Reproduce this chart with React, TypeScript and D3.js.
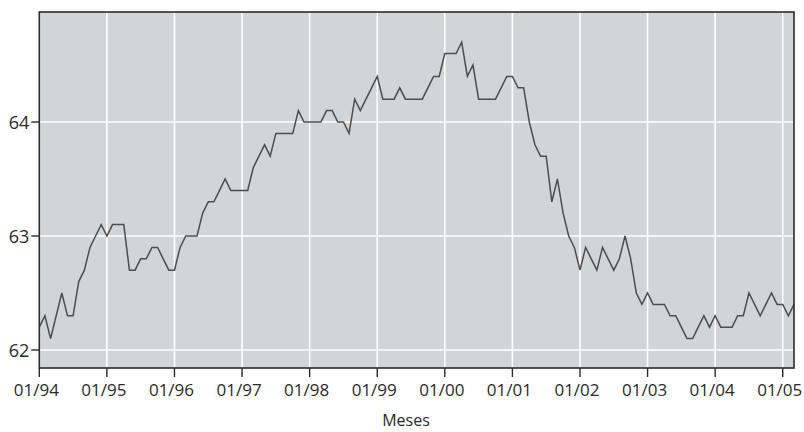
import React from "react";
import * as d3 from "d3";

// Monthly values, Jan 1994 (index 0) to Mar 2005 (index 134)
const values: number[] = [
  62.2, 62.3, 62.1, 62.3, 62.5, 62.3, 62.3, 62.6, 62.7, 62.9, 63.0, 63.1, // 1994
  63.0, 63.1, 63.1, 63.1, 62.7, 62.7, 62.8, 62.8, 62.9, 62.9, 62.8, 62.7, // 1995
  62.7, 62.9, 63.0, 63.0, 63.0, 63.2, 63.3, 63.3, 63.4, 63.5, 63.4, 63.4, // 1996
  63.4, 63.4, 63.6, 63.7, 63.8, 63.7, 63.9, 63.9, 63.9, 63.9, 64.1, 64.0, // 1997
  64.0, 64.0, 64.0, 64.1, 64.1, 64.0, 64.0, 63.9, 64.2, 64.1, 64.2, 64.3, // 1998
  64.4, 64.2, 64.2, 64.2, 64.3, 64.2, 64.2, 64.2, 64.2, 64.3, 64.4, 64.4, // 1999
  64.6, 64.6, 64.6, 64.7, 64.4, 64.5, 64.2, 64.2, 64.2, 64.2, 64.3, 64.4, // 2000
  64.4, 64.3, 64.3, 64.0, 63.8, 63.7, 63.7, 63.3, 63.5, 63.2, 63.0, 62.9, // 2001
  62.7, 62.9, 62.8, 62.7, 62.9, 62.8, 62.7, 62.8, 63.0, 62.8, 62.5, 62.4, // 2002
  62.5, 62.4, 62.4, 62.4, 62.3, 62.3, 62.2, 62.1, 62.1, 62.2, 62.3, 62.2, // 2003
  62.3, 62.2, 62.2, 62.2, 62.3, 62.3, 62.5, 62.4, 62.3, 62.4, 62.5, 62.4, // 2004
  62.4, 62.3, 62.4, // 2005
];

const xTickLabels: string[] = [
  "01/94", "01/95", "01/96", "01/97", "01/98", "01/99",
  "01/00", "01/01", "01/02", "01/03", "01/04", "01/05",
];
const xTickMonths: number[] = xTickLabels.map((_, i) => i * 12);
const yTicks: number[] = [62, 63, 64];
const yTickLabels: string[] = ["62", "63", "64"];
const xAxisTitle = "Meses";

const W = 804;
const H = 432;
const left = 39.3;
const right = 794;
const top = 12;
const bottom = 368;

export default function App() {
  const x = d3.scaleLinear().domain([0, values.length - 1]).range([left, right]);
  const y = d3.scaleLinear().domain([61.842, 64.965]).range([bottom, top]);

  const line = d3
    .line<number>()
    .x((_, i) => x(i))
    .y((d) => y(d));

  const font = "'Open Sans', 'Noto Sans', sans-serif";
  const textColor = "#2a2a2a";

  return (
    <svg
      width={W}
      height={H}
      style={{ position: "absolute", left: 0, top: 0, background: "#ffffff" }}
    >
      <rect x={left} y={top} width={right - left} height={bottom - top} fill="#d3d4d6" />
      {/* grid */}
      {xTickMonths.map((m) => (
        <line key={"gx" + m} x1={x(m)} x2={x(m)} y1={top} y2={bottom} stroke="#ffffff" strokeWidth={1.6} />
      ))}
      {yTicks.map((v) => (
        <line key={"gy" + v} x1={left} x2={right} y1={y(v)} y2={y(v)} stroke="#ffffff" strokeWidth={1.6} />
      ))}
      {/* data line */}
      <path d={line(values) || ""} fill="none" stroke="#4d4d4d" strokeWidth={1.5} strokeLinejoin="miter" />
      {/* frame */}
      <rect x={left} y={top} width={right - left} height={bottom - top} fill="none" stroke="#2b2b2b" strokeWidth={1.6} />
      {/* y ticks */}
      {yTicks.map((v, i) => (
        <g key={"yt" + v}>
          <line x1={left - 8} x2={left} y1={y(v)} y2={y(v)} stroke="#2b2b2b" strokeWidth={1.4} />
          <text
            x={left - 10}
            y={y(v)}
            textAnchor="end"
            dominantBaseline="central"
            fontFamily={font}
            fontSize={18}
            fill={textColor}
          >
            {yTickLabels[i]}
          </text>
        </g>
      ))}
      {/* x ticks */}
      {xTickMonths.map((m, i) => (
        <g key={"xt" + m}>
          <line x1={x(m)} x2={x(m)} y1={bottom} y2={bottom + 9} stroke="#2b2b2b" strokeWidth={1.4} />
          <text
            x={x(m) - 3}
            y={bottom + 28}
            textAnchor="middle"
            fontFamily={font}
            fontSize={17}
            fill={textColor}
          >
            {xTickLabels[i]}
          </text>
        </g>
      ))}
      <text
        x={406}
        y={426}
        textAnchor="middle"
        fontFamily={font}
        fontSize={16}
        fill={textColor}
      >
        {xAxisTitle}
      </text>
    </svg>
  );
}
